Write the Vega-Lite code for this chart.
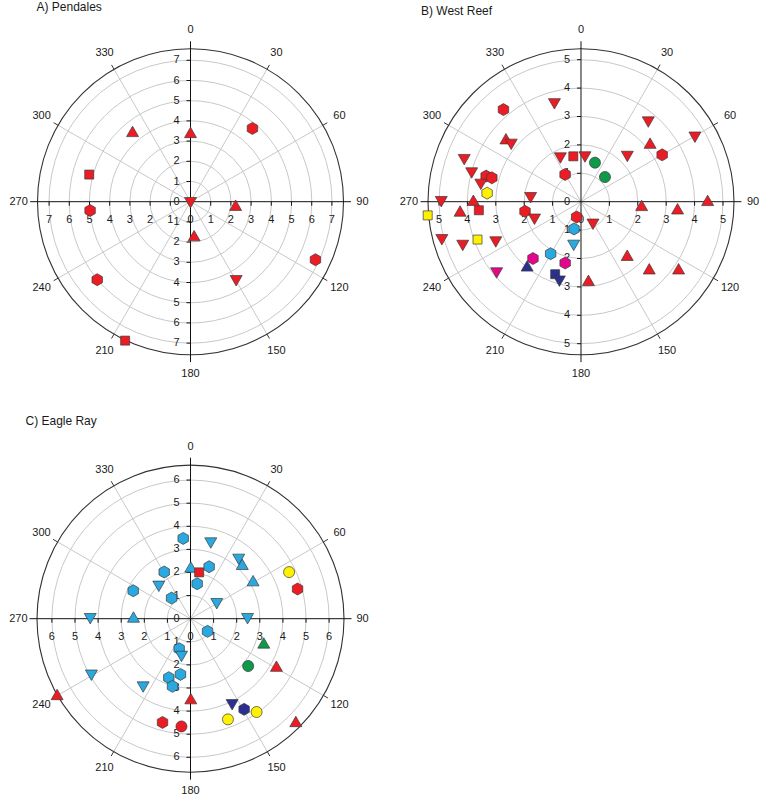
{
  "$schema": "https://vega.github.io/schema/vega-lite/v6.json",
  "background": "white",
  "padding": {"left": 7.5, "top": 0.7, "right": 0, "bottom": 0},
  "config": {
    "view": {"stroke": null},
    "axis": {"disable": true},
    "text": {"font": "Liberation Sans", "fontSize": 11, "color": "#1a1a1a"}
  },
  "datasets": {
    "pts": [
      {"site": "A", "bearing": 320.5, "dist": 4.51, "sym": "S1", "grp": "G1"},
      {"site": "A", "bearing": 0, "dist": 3.43, "sym": "S1", "grp": "G1"},
      {"site": "A", "bearing": 40.2, "dist": 4.75, "sym": "S3", "grp": "G1"},
      {"site": "A", "bearing": 285, "dist": 5.19, "sym": "S4", "grp": "G1"},
      {"site": "A", "bearing": 265, "dist": 4.99, "sym": "S3", "grp": "G1"},
      {"site": "A", "bearing": 180, "dist": 0.05, "sym": "S2", "grp": "G1"},
      {"site": "A", "bearing": 94.4, "dist": 2.24, "sym": "S1", "grp": "G1"},
      {"site": "A", "bearing": 173.9, "dist": 1.69, "sym": "S1", "grp": "G1"},
      {"site": "A", "bearing": 150, "dist": 4.52, "sym": "S2", "grp": "G1"},
      {"site": "A", "bearing": 114.9, "dist": 6.82, "sym": "S3", "grp": "G1"},
      {"site": "A", "bearing": 230.1, "dist": 6.02, "sym": "S3", "grp": "G1"},
      {"site": "A", "bearing": 205.2, "dist": 7.6, "sym": "S4", "grp": "G1"},

      {"site": "B", "bearing": 319.9, "dist": 4.24, "sym": "S3", "grp": "G1"},
      {"site": "B", "bearing": 344.8, "dist": 3.57, "sym": "S2", "grp": "G1"},
      {"site": "B", "bearing": 310.0, "dist": 3.45, "sym": "S1", "grp": "G1"},
      {"site": "B", "bearing": 309.4, "dist": 3.18, "sym": "S2", "grp": "G1"},
      {"site": "B", "bearing": 40.2, "dist": 3.67, "sym": "S2", "grp": "G1"},
      {"site": "B", "bearing": 60.5, "dist": 4.61, "sym": "S2", "grp": "G1"},
      {"site": "B", "bearing": 49.7, "dist": 3.19, "sym": "S1", "grp": "G1"},
      {"site": "B", "bearing": 60.0, "dist": 3.30, "sym": "S3", "grp": "G1"},
      {"site": "B", "bearing": 45.7, "dist": 2.28, "sym": "S2", "grp": "G1"},
      {"site": "B", "bearing": 334.7, "dist": 1.70, "sym": "S2", "grp": "G1"},
      {"site": "B", "bearing": 350.4, "dist": 1.62, "sym": "S4", "grp": "G1"},
      {"site": "B", "bearing": 5.1, "dist": 1.58, "sym": "S2", "grp": "G1"},
      {"site": "B", "bearing": 19.7, "dist": 1.46, "sym": "S5", "grp": "G5"},
      {"site": "B", "bearing": 44.2, "dist": 1.21, "sym": "S5", "grp": "G5"},
      {"site": "B", "bearing": 329.7, "dist": 1.11, "sym": "S3", "grp": "G1"},
      {"site": "B", "bearing": 289.8, "dist": 4.37, "sym": "S2", "grp": "G1"},
      {"site": "B", "bearing": 284.7, "dist": 3.98, "sym": "S2", "grp": "G1"},
      {"site": "B", "bearing": 285.1, "dist": 3.46, "sym": "S3", "grp": "G1"},
      {"site": "B", "bearing": 285.0, "dist": 3.25, "sym": "S3", "grp": "G1"},
      {"site": "B", "bearing": 279.8, "dist": 3.58, "sym": "S2", "grp": "G1"},
      {"site": "B", "bearing": 275.2, "dist": 3.32, "sym": "S3", "grp": "G2"},
      {"site": "B", "bearing": 270.0, "dist": 4.92, "sym": "S2", "grp": "G1"},
      {"site": "B", "bearing": 270.8, "dist": 3.79, "sym": "S1", "grp": "G1"},
      {"site": "B", "bearing": 274.5, "dist": 1.78, "sym": "S2", "grp": "G1"},
      {"site": "B", "bearing": 264.9, "dist": 5.42, "sym": "S4", "grp": "G2"},
      {"site": "B", "bearing": 265.6, "dist": 4.27, "sym": "S1", "grp": "G1"},
      {"site": "B", "bearing": 265.2, "dist": 3.61, "sym": "S4", "grp": "G1"},
      {"site": "B", "bearing": 260.2, "dist": 2.00, "sym": "S3", "grp": "G1"},
      {"site": "B", "bearing": 249.3, "dist": 1.75, "sym": "S2", "grp": "G1"},
      {"site": "B", "bearing": 195.8, "dist": 0.56, "sym": "S3", "grp": "G1"},
      {"site": "B", "bearing": 152.1, "dist": 0.90, "sym": "S2", "grp": "G1"},
      {"site": "B", "bearing": 254.7, "dist": 5.08, "sym": "S2", "grp": "G1"},
      {"site": "B", "bearing": 249.7, "dist": 4.44, "sym": "S2", "grp": "G1"},
      {"site": "B", "bearing": 249.9, "dist": 3.88, "sym": "S4", "grp": "G2"},
      {"site": "B", "bearing": 244.7, "dist": 3.32, "sym": "S2", "grp": "G1"},
      {"site": "B", "bearing": 229.8, "dist": 3.89, "sym": "S2", "grp": "G6"},
      {"site": "B", "bearing": 220.2, "dist": 2.62, "sym": "S3", "grp": "G6"},
      {"site": "B", "bearing": 194.5, "dist": 2.23, "sym": "S3", "grp": "G6"},
      {"site": "B", "bearing": 220.0, "dist": 2.95, "sym": "S1", "grp": "G4"},
      {"site": "B", "bearing": 210.3, "dist": 2.12, "sym": "S3", "grp": "G3"},
      {"site": "B", "bearing": 194.4, "dist": 0.99, "sym": "S3", "grp": "G3"},
      {"site": "B", "bearing": 189.5, "dist": 1.56, "sym": "S2", "grp": "G3"},
      {"site": "B", "bearing": 199.6, "dist": 2.71, "sym": "S4", "grp": "G4"},
      {"site": "B", "bearing": 195.2, "dist": 2.90, "sym": "S2", "grp": "G4"},
      {"site": "B", "bearing": 174.6, "dist": 2.78, "sym": "S1", "grp": "G1"},
      {"site": "B", "bearing": 139.2, "dist": 2.49, "sym": "S1", "grp": "G1"},
      {"site": "B", "bearing": 134.5, "dist": 3.37, "sym": "S1", "grp": "G1"},
      {"site": "B", "bearing": 124.5, "dist": 4.17, "sym": "S1", "grp": "G1"},
      {"site": "B", "bearing": 93.5, "dist": 2.14, "sym": "S1", "grp": "G1"},
      {"site": "B", "bearing": 94.2, "dist": 3.41, "sym": "S1", "grp": "G1"},
      {"site": "B", "bearing": 89.4, "dist": 4.46, "sym": "S1", "grp": "G1"},

      {"site": "C", "bearing": 354.8, "dist": 3.49, "sym": "S3", "grp": "G3"},
      {"site": "C", "bearing": 15.0, "dist": 3.39, "sym": "S2", "grp": "G3"},
      {"site": "C", "bearing": 39.1, "dist": 3.31, "sym": "S2", "grp": "G3"},
      {"site": "C", "bearing": 43.6, "dist": 3.25, "sym": "S1", "grp": "G3"},
      {"site": "C", "bearing": 58.7, "dist": 3.17, "sym": "S1", "grp": "G3"},
      {"site": "C", "bearing": 64.7, "dist": 4.72, "sym": "S5", "grp": "G2"},
      {"site": "C", "bearing": 74.5, "dist": 4.81, "sym": "S3", "grp": "G1"},
      {"site": "C", "bearing": 0.3, "dist": 2.24, "sym": "S1", "grp": "G3"},
      {"site": "C", "bearing": 19.7, "dist": 2.39, "sym": "S3", "grp": "G3"},
      {"site": "C", "bearing": 10.6, "dist": 2.04, "sym": "S4", "grp": "G1"},
      {"site": "C", "bearing": 10.8, "dist": 1.54, "sym": "S3", "grp": "G3"},
      {"site": "C", "bearing": 330.6, "dist": 2.32, "sym": "S3", "grp": "G3"},
      {"site": "C", "bearing": 315.6, "dist": 1.96, "sym": "S2", "grp": "G3"},
      {"site": "C", "bearing": 296.0, "dist": 2.76, "sym": "S3", "grp": "G3"},
      {"site": "C", "bearing": 317.4, "dist": 1.21, "sym": "S3", "grp": "G3"},
      {"site": "C", "bearing": 60.3, "dist": 1.31, "sym": "S2", "grp": "G3"},
      {"site": "C", "bearing": 270.0, "dist": 4.34, "sym": "S2", "grp": "G3"},
      {"site": "C", "bearing": 271.7, "dist": 2.47, "sym": "S1", "grp": "G3"},
      {"site": "C", "bearing": 90.0, "dist": 2.47, "sym": "S2", "grp": "G3"},
      {"site": "C", "bearing": 126.6, "dist": 0.92, "sym": "S3", "grp": "G3"},
      {"site": "C", "bearing": 108.3, "dist": 3.34, "sym": "S1", "grp": "G5"},
      {"site": "C", "bearing": 129.4, "dist": 3.23, "sym": "S5", "grp": "G5"},
      {"site": "C", "bearing": 118.9, "dist": 4.25, "sym": "S1", "grp": "G1"},
      {"site": "C", "bearing": 200.7, "dist": 1.39, "sym": "S3", "grp": "G3"},
      {"site": "C", "bearing": 193.4, "dist": 1.68, "sym": "S2", "grp": "G3"},
      {"site": "C", "bearing": 190.2, "dist": 2.45, "sym": "S3", "grp": "G3"},
      {"site": "C", "bearing": 200.2, "dist": 2.72, "sym": "S3", "grp": "G3"},
      {"site": "C", "bearing": 194.9, "dist": 3.03, "sym": "S3", "grp": "G3"},
      {"site": "C", "bearing": 214.7, "dist": 3.60, "sym": "S2", "grp": "G3"},
      {"site": "C", "bearing": 240.3, "dist": 4.94, "sym": "S2", "grp": "G3"},
      {"site": "C", "bearing": 240.4, "dist": 6.64, "sym": "S1", "grp": "G1"},
      {"site": "C", "bearing": 179.8, "dist": 3.46, "sym": "S1", "grp": "G1"},
      {"site": "C", "bearing": 195.1, "dist": 4.65, "sym": "S3", "grp": "G1"},
      {"site": "C", "bearing": 184.8, "dist": 4.68, "sym": "S5", "grp": "G1"},
      {"site": "C", "bearing": 154.2, "dist": 4.14, "sym": "S2", "grp": "G4"},
      {"site": "C", "bearing": 149.4, "dist": 4.56, "sym": "S3", "grp": "G4"},
      {"site": "C", "bearing": 144.7, "dist": 4.95, "sym": "S5", "grp": "G2"},
      {"site": "C", "bearing": 159.6, "dist": 4.65, "sym": "S5", "grp": "G2"},
      {"site": "C", "bearing": 134.3, "dist": 6.37, "sym": "S1", "grp": "G1"}
    ],
    "spokes": [{"a": 30}, {"a": 60}, {"a": 120}, {"a": 150}, {"a": 210}, {"a": 240}, {"a": 300}, {"a": 330}],
    "axes": [{"a": 0}, {"a": 90}],
    "bearings": [{"a": 0}, {"a": 30}, {"a": 60}, {"a": 90}, {"a": 120}, {"a": 150}, {"a": 180}, {"a": 210}, {"a": 240}, {"a": 270}, {"a": 300}, {"a": 330}]
  },
  "columns": 2,
  "spacing": {"row": 32, "column": 24.5},
  "bounds": "flush",
  "resolve": {"scale": {"x": "independent", "y": "independent", "size": "independent"}},
  "concat": [
    {
      "width": 366, "height": 385,
      "title": {"text": "A) Pendales", "anchor": "start", "frame": "group", "offset": 0, "dx": 29, "dy": 17.6, "baseline": "middle", "fontSize": 12, "fontWeight": "normal", "font": "Liberation Sans", "color": "#1a1a1a"},
      "encoding": {
        "x": {"field": "x", "type": "quantitative", "scale": {"domain": [-9.059, 9.059], "nice": false, "zero": false}},
        "y": {"field": "y", "type": "quantitative", "scale": {"domain": [-9.158, 9.901], "nice": false, "zero": false}}
      },
      "layer": [
        {"data": {"values": [{"r": 1}, {"r": 2}, {"r": 3}, {"r": 4}, {"r": 5}, {"r": 6}, {"r": 7}]},
         "transform": [{"calculate": "0", "as": "x"}, {"calculate": "0", "as": "y"}],
         "mark": {"type": "point", "shape": "circle", "filled": false, "stroke": "#c8c8c8", "strokeWidth": 1, "opacity": 1},
         "encoding": {"size": {"field": "r", "type": "quantitative", "legend": null, "scale": {"type": "pow", "exponent": 2, "domain": [0, 7.57], "range": [0, 93636], "zero": true, "nice": false}}}},
        {"data": {"name": "spokes"},
         "transform": [{"calculate": "0", "as": "x"}, {"calculate": "0", "as": "y"}, {"calculate": "7.57*sin(datum.a*PI/180)", "as": "x2"}, {"calculate": "7.57*cos(datum.a*PI/180)", "as": "y2"}],
         "mark": {"type": "rule", "stroke": "#c8c8c8", "strokeWidth": 1},
         "encoding": {"x2": {"field": "x2"}, "y2": {"field": "y2"}}},
        {"data": {"values": [{"r": 7.57}]},
         "transform": [{"calculate": "0", "as": "x"}, {"calculate": "0", "as": "y"}],
         "mark": {"type": "point", "shape": "circle", "filled": false, "stroke": "#333333", "strokeWidth": 1.1, "opacity": 1},
         "encoding": {"size": {"field": "r", "type": "quantitative", "legend": null, "scale": {"type": "pow", "exponent": 2, "domain": [0, 7.57], "range": [0, 93636], "zero": true, "nice": false}}}},
        {"data": {"name": "spokes"},
         "transform": [{"calculate": "7.57*sin(datum.a*PI/180)", "as": "x"}, {"calculate": "7.57*cos(datum.a*PI/180)", "as": "y"}, {"calculate": "7.82*sin(datum.a*PI/180)", "as": "x2"}, {"calculate": "7.82*cos(datum.a*PI/180)", "as": "y2"}],
         "mark": {"type": "rule", "stroke": "#333333", "strokeWidth": 1},
         "encoding": {"x2": {"field": "x2"}, "y2": {"field": "y2"}}},
        {"data": {"name": "axes"},
         "transform": [{"calculate": "-7.94*sin(datum.a*PI/180)", "as": "x"}, {"calculate": "-7.94*cos(datum.a*PI/180)", "as": "y"}, {"calculate": "7.94*sin(datum.a*PI/180)", "as": "x2"}, {"calculate": "7.94*cos(datum.a*PI/180)", "as": "y2"}],
         "mark": {"type": "rule", "stroke": "#111111", "strokeWidth": 1},
         "encoding": {"x2": {"field": "x2"}, "y2": {"field": "y2"}}},
        {"data": {"values": [{"r": 0, "side": ["N", "E"]}, {"r": 1, "side": ["N", "E", "S", "W"]}, {"r": 2, "side": ["N", "E", "S", "W"]}, {"r": 3, "side": ["N", "E", "S", "W"]}, {"r": 4, "side": ["N", "E", "S", "W"]}, {"r": 5, "side": ["N", "E", "S", "W"]}, {"r": 6, "side": ["N", "E", "S", "W"]}, {"r": 7, "side": ["N", "E", "S", "W"]}]},
         "transform": [{"flatten": ["side"]},
           {"calculate": "datum.side=='E'?datum.r:(datum.side=='W'?-datum.r:0)", "as": "x"},
           {"calculate": "datum.side=='N'?datum.r:(datum.side=='S'?-datum.r:0)", "as": "y"},
           {"calculate": "(datum.side=='N'||datum.side=='S')?-0.198:datum.x", "as": "x2"},
           {"calculate": "(datum.side=='N'||datum.side=='S')?datum.y:-0.198", "as": "y2"}],
         "layer": [
           {"transform": [{"filter": "datum.r>0"}], "mark": {"type": "rule", "stroke": "#111111", "strokeWidth": 1}, "encoding": {"x2": {"field": "x2"}, "y2": {"field": "y2"}}},
           {"transform": [{"filter": "datum.side=='N'||datum.side=='S'"}], "mark": {"type": "text", "align": "right", "baseline": "middle", "dx": -11}, "encoding": {"text": {"field": "r", "type": "nominal"}}},
           {"transform": [{"filter": "datum.side=='E'||datum.side=='W'"}], "mark": {"type": "text", "align": "center", "baseline": "middle", "dy": 18}, "encoding": {"text": {"field": "r", "type": "nominal"}}}
         ]},
        {"data": {"name": "bearings"},
         "transform": [{"calculate": "8.51*sin(datum.a*PI/180)", "as": "x"}, {"calculate": "8.51*cos(datum.a*PI/180)", "as": "y"}],
         "mark": {"type": "text", "align": "center", "baseline": "middle"},
         "encoding": {"text": {"field": "a", "type": "nominal"}}},
        {"data": {"name": "pts"},
         "transform": [{"filter": "datum.site=='A'"}, {"calculate": "datum.dist*sin(datum.bearing*PI/180)", "as": "x"}, {"calculate": "datum.dist*cos(datum.bearing*PI/180)", "as": "y"}],
         "mark": {"type": "point", "filled": true, "opacity": 1, "size": 144, "stroke": "#3a3a3a", "strokeWidth": 0.7},
         "encoding": {
           "shape": {"field": "sym", "type": "nominal", "legend": null, "scale": {"domain": ["S1", "S2", "S3", "S4", "S5"], "range": ["M0,-0.87L1,0.87L-1,0.87Z", "M0,0.87L1,-0.87L-1,-0.87Z", "M0,-1L0.87,-0.5L0.87,0.5L0,1L-0.87,0.5L-0.87,-0.5Z", "M-0.75,-0.75L0.75,-0.75L0.75,0.75L-0.75,0.75Z", "M-0.92,0A0.92,0.92,0,1,0,0.92,0A0.92,0.92,0,1,0,-0.92,0Z"]}},
           "fill": {"field": "grp", "type": "nominal", "legend": null, "scale": {"domain": ["G1", "G2", "G3", "G4", "G5", "G6"], "range": ["#ec1c24", "#fff200", "#29a9e0", "#2b2f8f", "#0f9a4a", "#e5078b"]}}
         }}
      ]
    },
    {
      "width": 366, "height": 385,
      "title": {"text": "B) West Reef", "anchor": "start", "frame": "group", "offset": 0, "dx": 23, "dy": 21, "baseline": "middle", "fontSize": 12, "fontWeight": "normal", "font": "Liberation Sans", "color": "#1a1a1a"},
      "encoding": {
        "x": {"field": "x", "type": "quantitative", "scale": {"domain": [-6.444, 6.444], "nice": false, "zero": false}},
        "y": {"field": "y", "type": "quantitative", "scale": {"domain": [-6.514, 7.042], "nice": false, "zero": false}}
      },
      "layer": [
        {"data": {"values": [{"r": 1}, {"r": 2}, {"r": 3}, {"r": 4}, {"r": 5}]},
         "transform": [{"calculate": "0", "as": "x"}, {"calculate": "0", "as": "y"}],
         "mark": {"type": "point", "shape": "circle", "filled": false, "stroke": "#c8c8c8", "strokeWidth": 1, "opacity": 1},
         "encoding": {"size": {"field": "r", "type": "quantitative", "legend": null, "scale": {"type": "pow", "exponent": 2, "domain": [0, 5.39], "range": [0, 93636], "zero": true, "nice": false}}}},
        {"data": {"name": "spokes"},
         "transform": [{"calculate": "0", "as": "x"}, {"calculate": "0", "as": "y"}, {"calculate": "5.39*sin(datum.a*PI/180)", "as": "x2"}, {"calculate": "5.39*cos(datum.a*PI/180)", "as": "y2"}],
         "mark": {"type": "rule", "stroke": "#c8c8c8", "strokeWidth": 1},
         "encoding": {"x2": {"field": "x2"}, "y2": {"field": "y2"}}},
        {"data": {"values": [{"r": 5.39}]},
         "transform": [{"calculate": "0", "as": "x"}, {"calculate": "0", "as": "y"}],
         "mark": {"type": "point", "shape": "circle", "filled": false, "stroke": "#333333", "strokeWidth": 1.1, "opacity": 1},
         "encoding": {"size": {"field": "r", "type": "quantitative", "legend": null, "scale": {"type": "pow", "exponent": 2, "domain": [0, 5.39], "range": [0, 93636], "zero": true, "nice": false}}}},
        {"data": {"name": "spokes"},
         "transform": [{"calculate": "5.39*sin(datum.a*PI/180)", "as": "x"}, {"calculate": "5.39*cos(datum.a*PI/180)", "as": "y"}, {"calculate": "5.57*sin(datum.a*PI/180)", "as": "x2"}, {"calculate": "5.57*cos(datum.a*PI/180)", "as": "y2"}],
         "mark": {"type": "rule", "stroke": "#333333", "strokeWidth": 1},
         "encoding": {"x2": {"field": "x2"}, "y2": {"field": "y2"}}},
        {"data": {"name": "axes"},
         "transform": [{"calculate": "-5.65*sin(datum.a*PI/180)", "as": "x"}, {"calculate": "-5.65*cos(datum.a*PI/180)", "as": "y"}, {"calculate": "5.65*sin(datum.a*PI/180)", "as": "x2"}, {"calculate": "5.65*cos(datum.a*PI/180)", "as": "y2"}],
         "mark": {"type": "rule", "stroke": "#111111", "strokeWidth": 1},
         "encoding": {"x2": {"field": "x2"}, "y2": {"field": "y2"}}},
        {"data": {"values": [{"r": 0, "side": ["N", "E"]}, {"r": 1, "side": ["N", "E", "S", "W"]}, {"r": 2, "side": ["N", "E", "S", "W"]}, {"r": 3, "side": ["N", "E", "S", "W"]}, {"r": 4, "side": ["N", "E", "S", "W"]}, {"r": 5, "side": ["N", "E", "S", "W"]}]},
         "transform": [{"flatten": ["side"]},
           {"calculate": "datum.side=='E'?datum.r:(datum.side=='W'?-datum.r:0)", "as": "x"},
           {"calculate": "datum.side=='N'?datum.r:(datum.side=='S'?-datum.r:0)", "as": "y"},
           {"calculate": "(datum.side=='N'||datum.side=='S')?-0.141:datum.x", "as": "x2"},
           {"calculate": "(datum.side=='N'||datum.side=='S')?datum.y:-0.141", "as": "y2"}],
         "layer": [
           {"transform": [{"filter": "datum.r>0"}], "mark": {"type": "rule", "stroke": "#111111", "strokeWidth": 1}, "encoding": {"x2": {"field": "x2"}, "y2": {"field": "y2"}}},
           {"transform": [{"filter": "datum.side=='N'||datum.side=='S'"}], "mark": {"type": "text", "align": "right", "baseline": "middle", "dx": -11}, "encoding": {"text": {"field": "r", "type": "nominal"}}},
           {"transform": [{"filter": "datum.side=='E'||datum.side=='W'"}], "mark": {"type": "text", "align": "center", "baseline": "middle", "dy": 18}, "encoding": {"text": {"field": "r", "type": "nominal"}}}
         ]},
        {"data": {"name": "bearings"},
         "transform": [{"calculate": "6.06*sin(datum.a*PI/180)", "as": "x"}, {"calculate": "6.06*cos(datum.a*PI/180)", "as": "y"}],
         "mark": {"type": "text", "align": "center", "baseline": "middle"},
         "encoding": {"text": {"field": "a", "type": "nominal"}}},
        {"data": {"name": "pts"},
         "transform": [{"filter": "datum.site=='B'"}, {"calculate": "datum.dist*sin(datum.bearing*PI/180)", "as": "x"}, {"calculate": "datum.dist*cos(datum.bearing*PI/180)", "as": "y"}],
         "mark": {"type": "point", "filled": true, "opacity": 1, "size": 144, "stroke": "#3a3a3a", "strokeWidth": 0.7},
         "encoding": {
           "shape": {"field": "sym", "type": "nominal", "legend": null, "scale": {"domain": ["S1", "S2", "S3", "S4", "S5"], "range": ["M0,-0.87L1,0.87L-1,0.87Z", "M0,0.87L1,-0.87L-1,-0.87Z", "M0,-1L0.87,-0.5L0.87,0.5L0,1L-0.87,0.5L-0.87,-0.5Z", "M-0.75,-0.75L0.75,-0.75L0.75,0.75L-0.75,0.75Z", "M-0.92,0A0.92,0.92,0,1,0,0.92,0A0.92,0.92,0,1,0,-0.92,0Z"]}},
           "fill": {"field": "grp", "type": "nominal", "legend": null, "scale": {"domain": ["G1", "G2", "G3", "G4", "G5", "G6"], "range": ["#ec1c24", "#fff200", "#29a9e0", "#2b2f8f", "#0f9a4a", "#e5078b"]}}
         }}
      ]
    },
    {
      "width": 366, "height": 376,
      "title": {"text": "C) Eagle Ray", "anchor": "start", "frame": "group", "offset": 0, "dx": 18, "dy": 14.2, "baseline": "middle", "fontSize": 12, "fontWeight": "normal", "font": "Liberation Sans", "color": "#1a1a1a"},
      "encoding": {
        "x": {"field": "x", "type": "quantitative", "scale": {"domain": [-7.922, 7.922], "nice": false, "zero": false}},
        "y": {"field": "y", "type": "quantitative", "scale": {"domain": [-7.619, 8.658], "nice": false, "zero": false}}
      },
      "layer": [
        {"data": {"values": [{"r": 1}, {"r": 2}, {"r": 3}, {"r": 4}, {"r": 5}, {"r": 6}]},
         "transform": [{"calculate": "0", "as": "x"}, {"calculate": "0", "as": "y"}],
         "mark": {"type": "point", "shape": "circle", "filled": false, "stroke": "#c8c8c8", "strokeWidth": 1, "opacity": 1},
         "encoding": {"size": {"field": "r", "type": "quantitative", "legend": null, "scale": {"type": "pow", "exponent": 2, "domain": [0, 6.645], "range": [0, 94249], "zero": true, "nice": false}}}},
        {"data": {"name": "spokes"},
         "transform": [{"calculate": "0", "as": "x"}, {"calculate": "0", "as": "y"}, {"calculate": "6.645*sin(datum.a*PI/180)", "as": "x2"}, {"calculate": "6.645*cos(datum.a*PI/180)", "as": "y2"}],
         "mark": {"type": "rule", "stroke": "#c8c8c8", "strokeWidth": 1},
         "encoding": {"x2": {"field": "x2"}, "y2": {"field": "y2"}}},
        {"data": {"values": [{"r": 6.645}]},
         "transform": [{"calculate": "0", "as": "x"}, {"calculate": "0", "as": "y"}],
         "mark": {"type": "point", "shape": "circle", "filled": false, "stroke": "#333333", "strokeWidth": 1.1, "opacity": 1},
         "encoding": {"size": {"field": "r", "type": "quantitative", "legend": null, "scale": {"type": "pow", "exponent": 2, "domain": [0, 6.645], "range": [0, 94249], "zero": true, "nice": false}}}},
        {"data": {"name": "spokes"},
         "transform": [{"calculate": "6.645*sin(datum.a*PI/180)", "as": "x"}, {"calculate": "6.645*cos(datum.a*PI/180)", "as": "y"}, {"calculate": "6.87*sin(datum.a*PI/180)", "as": "x2"}, {"calculate": "6.87*cos(datum.a*PI/180)", "as": "y2"}],
         "mark": {"type": "rule", "stroke": "#333333", "strokeWidth": 1},
         "encoding": {"x2": {"field": "x2"}, "y2": {"field": "y2"}}},
        {"data": {"name": "axes"},
         "transform": [{"calculate": "-6.97*sin(datum.a*PI/180)", "as": "x"}, {"calculate": "-6.97*cos(datum.a*PI/180)", "as": "y"}, {"calculate": "6.97*sin(datum.a*PI/180)", "as": "x2"}, {"calculate": "6.97*cos(datum.a*PI/180)", "as": "y2"}],
         "mark": {"type": "rule", "stroke": "#111111", "strokeWidth": 1},
         "encoding": {"x2": {"field": "x2"}, "y2": {"field": "y2"}}},
        {"data": {"values": [{"r": 0, "side": ["N", "E"]}, {"r": 1, "side": ["N", "E", "S", "W"]}, {"r": 2, "side": ["N", "E", "S", "W"]}, {"r": 3, "side": ["N", "E", "S", "W"]}, {"r": 4, "side": ["N", "E", "S", "W"]}, {"r": 5, "side": ["N", "E", "S", "W"]}, {"r": 6, "side": ["N", "E", "S", "W"]}]},
         "transform": [{"flatten": ["side"]},
           {"calculate": "datum.side=='E'?datum.r:(datum.side=='W'?-datum.r:0)", "as": "x"},
           {"calculate": "datum.side=='N'?datum.r:(datum.side=='S'?-datum.r:0)", "as": "y"},
           {"calculate": "(datum.side=='N'||datum.side=='S')?-0.173:datum.x", "as": "x2"},
           {"calculate": "(datum.side=='N'||datum.side=='S')?datum.y:-0.173", "as": "y2"}],
         "layer": [
           {"transform": [{"filter": "datum.r>0"}], "mark": {"type": "rule", "stroke": "#111111", "strokeWidth": 1}, "encoding": {"x2": {"field": "x2"}, "y2": {"field": "y2"}}},
           {"transform": [{"filter": "datum.side=='N'||datum.side=='S'"}], "mark": {"type": "text", "align": "right", "baseline": "middle", "dx": -11}, "encoding": {"text": {"field": "r", "type": "nominal"}}},
           {"transform": [{"filter": "datum.side=='E'||datum.side=='W'"}], "mark": {"type": "text", "align": "center", "baseline": "middle", "dy": 18}, "encoding": {"text": {"field": "r", "type": "nominal"}}}
         ]},
        {"data": {"name": "bearings"},
         "transform": [{"calculate": "7.45*sin(datum.a*PI/180)", "as": "x"}, {"calculate": "7.45*cos(datum.a*PI/180)", "as": "y"}],
         "mark": {"type": "text", "align": "center", "baseline": "middle"},
         "encoding": {"text": {"field": "a", "type": "nominal"}}},
        {"data": {"name": "pts"},
         "transform": [{"filter": "datum.site=='C'"}, {"calculate": "datum.dist*sin(datum.bearing*PI/180)", "as": "x"}, {"calculate": "datum.dist*cos(datum.bearing*PI/180)", "as": "y"}],
         "mark": {"type": "point", "filled": true, "opacity": 1, "size": 144, "stroke": "#3a3a3a", "strokeWidth": 0.7},
         "encoding": {
           "shape": {"field": "sym", "type": "nominal", "legend": null, "scale": {"domain": ["S1", "S2", "S3", "S4", "S5"], "range": ["M0,-0.87L1,0.87L-1,0.87Z", "M0,0.87L1,-0.87L-1,-0.87Z", "M0,-1L0.87,-0.5L0.87,0.5L0,1L-0.87,0.5L-0.87,-0.5Z", "M-0.75,-0.75L0.75,-0.75L0.75,0.75L-0.75,0.75Z", "M-0.92,0A0.92,0.92,0,1,0,0.92,0A0.92,0.92,0,1,0,-0.92,0Z"]}},
           "fill": {"field": "grp", "type": "nominal", "legend": null, "scale": {"domain": ["G1", "G2", "G3", "G4", "G5", "G6"], "range": ["#ec1c24", "#fff200", "#29a9e0", "#2b2f8f", "#0f9a4a", "#e5078b"]}}
         }}
      ]
    }
  ]
}
